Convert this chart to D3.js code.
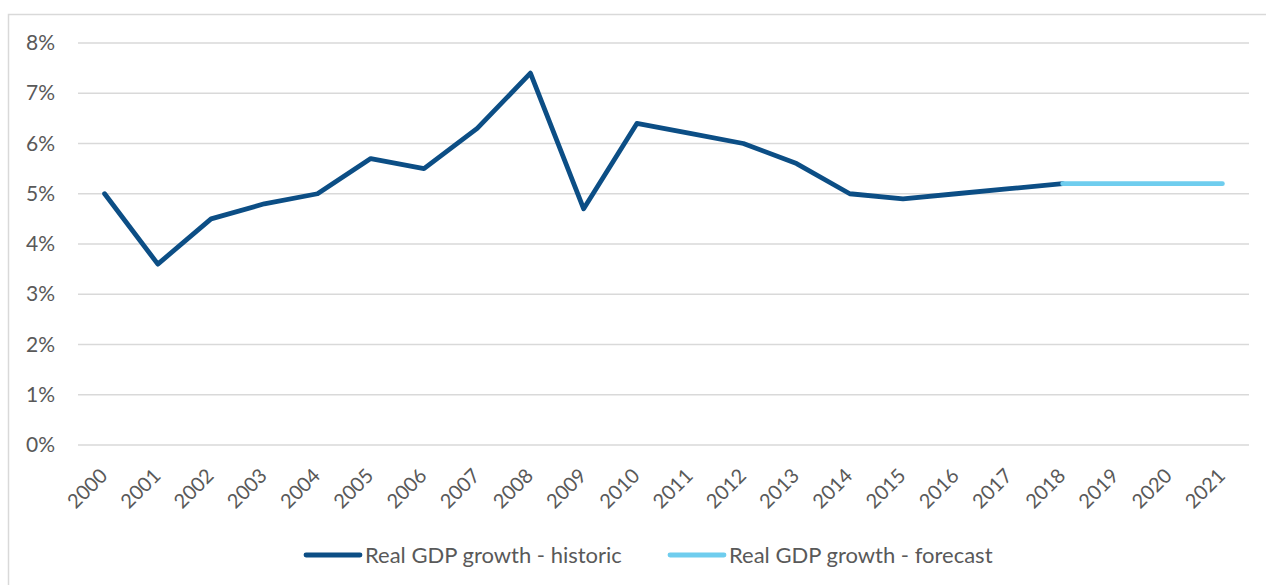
<!DOCTYPE html>
<html>
<head>
<meta charset="utf-8">
<script src="https://cdn.jsdelivr.net/npm/d3@7"></script>
<style>
  body { margin: 0; background: #fff; }
  svg { display: block; }
</style>
</head>
<body>
<svg width="1266" height="585"></svg>
<script>
var years = ["2000", "2001", "2002", "2003", "2004", "2005", "2006", "2007", "2008", "2009", "2010",
  "2011", "2012", "2013", "2014", "2015", "2016", "2017", "2018", "2019", "2020", "2021"];
var historicYears = years.slice(0, 19);
var historic = [5.0, 3.6, 4.5, 4.8, 5.0, 5.7, 5.5, 6.3, 7.4, 4.7, 6.4, 6.2, 6.0, 5.6, 5.0, 4.9, 5.0, 5.1, 5.2];
var forecastYears = ["2018", "2019", "2020", "2021"];
var forecast = [5.2, 5.2, 5.2, 5.2];
var yTicks = [0, 1, 2, 3, 4, 5, 6, 7, 8];
var seriesNames = ["Real GDP growth - historic", "Real GDP growth - forecast"];
var seriesColors = ["#0c4e85", "#6fcdee"];

var svg = d3.select("svg"),
  width = +svg.attr("width"),
  height = +svg.attr("height");
var font = "Lato, 'Open Sans', sans-serif";
var textColor = "#595959";

// outer frame
svg.append("rect")
  .attr("x", 8.5).attr("y", 14.5)
  .attr("width", width).attr("height", height)
  .attr("fill", "none").attr("stroke", "#d9d9d9").attr("stroke-width", 1.5);

var xScale = d3.scaleBand().domain(years).range([78, 1249]);
var yScale = d3.scaleLinear().domain([0, 8]).range([445, 43]);
var xc = function (y) { return xScale(y) + xScale.bandwidth() / 2; };

// gridlines
svg.append("g")
  .selectAll("line")
  .data(yTicks)
  .enter()
  .append("line")
  .attr("x1", 78).attr("x2", 1249)
  .attr("y1", function (d) { return yScale(d); })
  .attr("y2", function (d) { return yScale(d); })
  .attr("stroke", "#d9d9d9").attr("stroke-width", 1.5);

// y axis labels
var yAxis = d3.axisLeft(yScale).tickValues(yTicks).tickSize(0).tickPadding(0)
  .tickFormat(function (d) { return d + "%"; });
svg.append("g")
  .attr("transform", "translate(55,0)")
  .call(yAxis)
  .call(function (g) { g.select(".domain").remove(); })
  .selectAll("text")
  .attr("font-family", font).attr("font-size", 21).attr("fill", textColor);

// x axis labels
var xAxis = d3.axisBottom(xScale).tickSize(0).tickPadding(0);
svg.append("g")
  .attr("transform", "translate(0,445)")
  .call(xAxis)
  .call(function (g) { g.select(".domain").remove(); })
  .selectAll("text")
  .attr("font-family", font).attr("font-size", 20).attr("fill", textColor)
  .attr("text-anchor", "end")
  .attr("dy", "0")
  .attr("transform", "translate(4,32) rotate(-45)");

var line = d3.line()
  .x(function (d) { return xc(d[0]); })
  .y(function (d) { return yScale(d[1]); });

svg.append("path")
  .datum(d3.zip(historicYears, historic))
  .attr("d", line)
  .attr("fill", "none")
  .attr("stroke", seriesColors[0])
  .attr("stroke-width", 4.8)
  .attr("stroke-linejoin", "round")
  .attr("stroke-linecap", "round");

svg.append("path")
  .datum(d3.zip(forecastYears, forecast))
  .attr("d", line)
  .attr("fill", "none")
  .attr("stroke", seriesColors[1])
  .attr("stroke-width", 4.8)
  .attr("stroke-linejoin", "round")
  .attr("stroke-linecap", "round");

// legend
var legendX = [306, 670];
var legend = svg.append("g");
seriesNames.forEach(function (name, i) {
  legend.append("line")
    .attr("x1", legendX[i]).attr("x2", legendX[i] + 54)
    .attr("y1", 555).attr("y2", 555)
    .attr("stroke", seriesColors[i]).attr("stroke-width", 4.8)
    .attr("stroke-linecap", "round");
  legend.append("text")
    .attr("x", legendX[i] + 59).attr("y", 555)
    .attr("dy", "0.35em")
    .attr("font-family", font).attr("font-size", 22).attr("fill", textColor)
    .text(name);
});
</script>
</body>
</html>
